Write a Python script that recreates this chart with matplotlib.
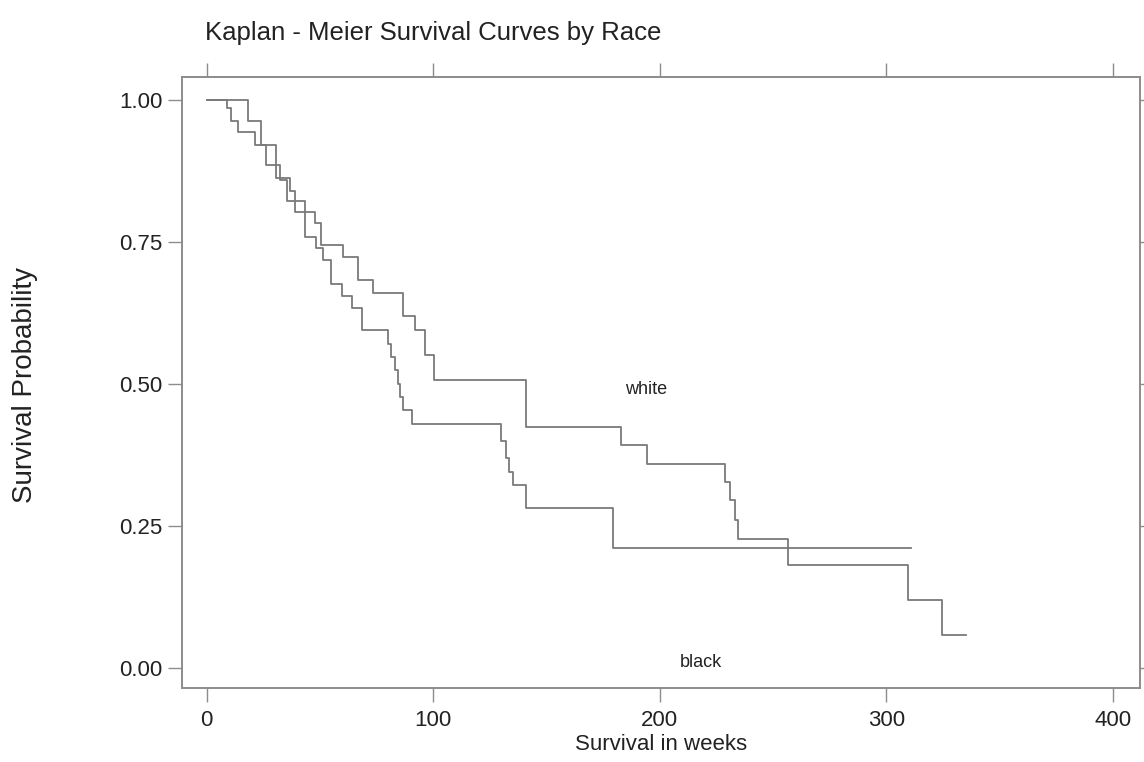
import numpy as np
import matplotlib.pyplot as plt
from matplotlib.ticker import FormatStrFormatter

# Kaplan-Meier step estimates (weeks, survival)
white_time = [0, 18.2, 24.1, 30.5, 36.6, 38.9, 43.3, 47.7, 50.6, 60.2, 66.8,
              73.4, 86.7, 91.8, 96.2, 100.2, 140.8, 183.0, 194.4, 229.0,
              231.0, 233.0, 234.6, 256.4, 309.6, 324.8, 335.1]
white_surv = [1.0, 0.963, 0.921, 0.863, 0.839, 0.821, 0.803, 0.783, 0.745,
              0.723, 0.682, 0.660, 0.619, 0.595, 0.551, 0.507, 0.425, 0.392,
              0.359, 0.328, 0.295, 0.260, 0.227, 0.181, 0.120, 0.059, 0.059]

black_time = [0, 8.7, 10.9, 13.8, 21.2, 26.3, 32.2, 35.2, 38.9, 43.3, 48.4,
              51.4, 55.0, 59.5, 64.2, 68.3, 80.0, 81.5, 83.0, 84.5, 85.5,
              86.5, 90.7, 130.1, 132.0, 133.5, 135.0, 141.1, 179.4, 311.0]
black_surv = [1.0, 0.985, 0.962, 0.944, 0.921, 0.885, 0.859, 0.822, 0.803,
              0.759, 0.739, 0.718, 0.676, 0.654, 0.633, 0.595, 0.571, 0.548,
              0.524, 0.500, 0.477, 0.454, 0.430, 0.399, 0.370, 0.345, 0.322,
              0.281, 0.211, 0.211]

x_ticks = [0, 100, 200, 300, 400]
y_ticks = [0.0, 0.25, 0.5, 0.75, 1.0]

plt.rcParams['font.family'] = ['Liberation Sans', 'DejaVu Sans']

fig = plt.figure(figsize=(11.44, 7.62), dpi=100)
ax = fig.add_axes([0.159, 0.097, 0.8375, 0.802])

line_col = '#7a7a7a'
ax.step(white_time, white_surv, where='post', color=line_col, lw=1.3)
ax.step(black_time, black_surv, where='post', color=line_col, lw=1.3)

ax.text(194, 0.49, 'white', fontsize=13, ha='center', va='center', color='#222222')
ax.text(218, 0.01, 'black', fontsize=13, ha='center', va='center', color='#222222')

ax.set_xlim(-11, 412)
ax.set_ylim(-0.035, 1.04)
ax.set_xticks(x_ticks)
ax.set_yticks(y_ticks)
ax.yaxis.set_major_formatter(FormatStrFormatter('%.2f'))

frame_col = '#8c8c8c'
for sp in ax.spines.values():
    sp.set_color(frame_col)
    sp.set_linewidth(1.4)
ax.tick_params(direction='out', length=10, width=1, color=frame_col,
               top=True, right=True, labelsize=16, labelcolor='#222222')
ax.tick_params(axis='x', pad=6)
ax.tick_params(axis='y', pad=4)

ax.set_xlabel('Survival in weeks', fontsize=16, color='#222222', labelpad=2)
fig.text(25 / 1144, 1 - 385 / 762, 'Survival Probability', fontsize=20,
         rotation=90, color='#222222', ha='center', va='center')
fig.text(205 / 1144, 1 - 33 / 762, 'Kaplan - Meier Survival Curves by Race',
         fontsize=18.5, color='#222222', ha='left', va='center')

fig.savefig('out.png', dpi=100)
